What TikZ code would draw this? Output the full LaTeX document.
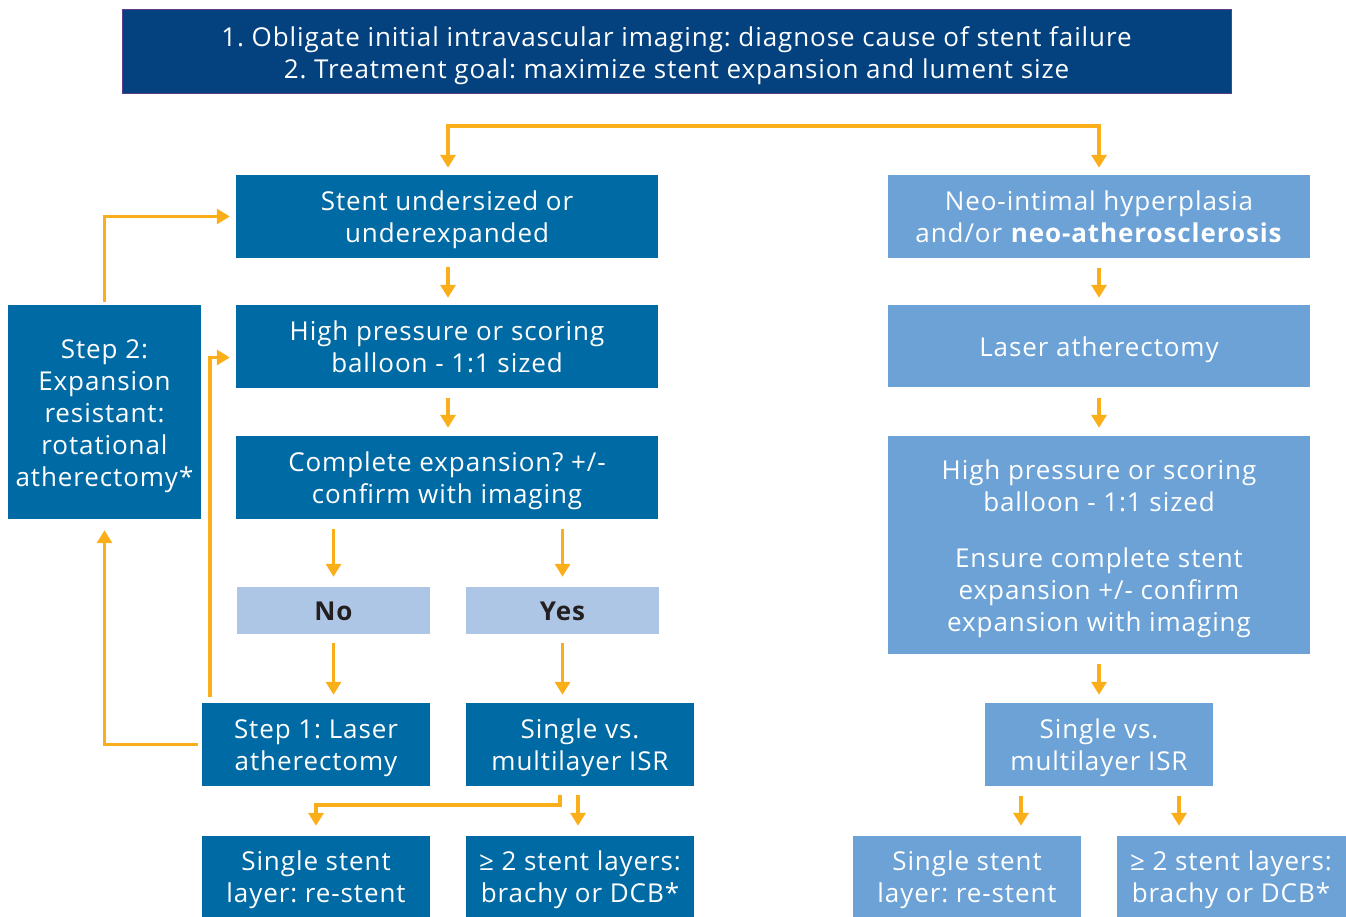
\documentclass[tikz,border=0pt]{standalone}
\usepackage{fontspec}
\setmainfont{Open Sans}[LetterSpace=3.5]
\usetikzlibrary{arrows.meta,calc}
\definecolor{banner}{RGB}{3,66,127}
\definecolor{bannerline}{RGB}{92,60,140}
\definecolor{midblue}{RGB}{0,106,164}
\definecolor{rblue}{RGB}{108,162,214}
\definecolor{lblue}{RGB}{174,198,230}
\definecolor{arrorange}{RGB}{250,174,26}
\definecolor{nearblack}{RGB}{35,31,32}
\newcommand{\tb}[1]{\raisebox{-4pt}[\height][\depth]{\begin{tabular}{@{}c@{}}#1\end{tabular}}}
\begin{document}
\frenchspacing
\begin{tikzpicture}[x=1pt,y=-1pt,
  base/.style={inner sep=0pt,font=\fontsize{26}{32}\selectfont},
  box/.style={base,fill=midblue,text=white},
  rbox/.style={base,fill=rblue,text=white},
  ansbox/.style={base,fill=lblue,text=nearblack,font=\fontsize{26}{32}\selectfont\bfseries},
  arr/.style={draw=arrorange,line width=3.5pt,-{Triangle[width=15pt,length=13pt]}},
  wide/.style={minimum width=422pt,minimum height=83pt},
  narrow/.style={minimum width=228pt,minimum height=83pt}]
\useasboundingbox (0,0) rectangle (1346,917);

% banner
\node[base,fill=banner,draw=bannerline,line width=1pt,text=white,minimum width=1109pt,minimum height=84pt] (T) at (676.5,52)
  {\tb{1. Obligate initial intravascular imaging: diagnose cause of stent failure\\2. Treatment goal: maximize stent expansion and lument size}};

% left column
\node[box,wide] (A) at (447,216.5) {\tb{Stent undersized or\\underexpanded}};
\node[box,wide] (B) at (447,346.5) {\tb{High pressure or scoring\\balloon - 1:1 sized}};
\node[box,wide] (C) at (447,477.5) {\tb{Complete expansion? +/-\\confirm with imaging}};
\node[ansbox,minimum width=193pt,minimum height=47pt] (No) at (333.5,610.5) {\tb{No}};
\node[ansbox,minimum width=193pt,minimum height=47pt] (Yes) at (562.5,610.5) {\tb{Yes}};
\node[box,narrow] (S1) at (316,744.5) {\tb{Step 1: Laser\\atherectomy}};
\node[box,narrow] (ISR) at (580,744.5) {\tb{Single vs.\\multilayer ISR}};
\node[box,minimum width=228pt,minimum height=81pt] (SS) at (316,876.5) {\tb{Single stent\\layer: re-stent}};
\node[box,minimum width=228pt,minimum height=81pt] (ML) at (580,876.5) {\tb{≥ 2 stent layers:\\brachy or DCB*}};
\node[box,minimum width=193pt,minimum height=214pt] (S2) at (104.5,412) {\tb{Step 2:\\Expansion\\resistant:\\rotational\\atherectomy*}};

% right column
\node[rbox,wide] (N) at (1099,216.5) {\tb{Neo-intimal hyperplasia\\and/or \textbf{neo-atherosclerosis}}};
\node[rbox,minimum width=422pt,minimum height=82pt] (L) at (1099,346) {\tb{Laser atherectomy}};
\node[rbox,minimum width=422pt,minimum height=218pt] (H) at (1099,545)
  {\tb{High pressure or scoring\\balloon - 1:1 sized\\[24pt]Ensure complete stent\\expansion +/- confirm\\expansion with imaging}};
\node[rbox,narrow] (NISR) at (1099,744.5) {\tb{Single vs.\\multilayer ISR}};
\node[rbox,minimum width=228pt,minimum height=81pt] (NSS) at (967,876.5) {\tb{Single stent\\layer: re-stent}};
\node[rbox,minimum width=229pt,minimum height=81pt] (NML) at (1231,876.5) {\tb{≥ 2 stent layers:\\brachy or DCB*}};

% top split
\coordinate (split) at (774,126);
\draw[arr,shorten >=7pt] (split) -| ([xshift=1pt]A.north);
\draw[arr,shorten >=7pt] (split) -| (N.north);

% left column arrows
\draw[arr,shorten <=9pt,shorten >=7pt] ([xshift=1pt]A.south) -- ([xshift=1pt]B.north);
\draw[arr,shorten <=10pt,shorten >=8pt] ([xshift=1pt]B.south) -- ([xshift=1pt]C.north);
\draw[arr,shorten <=10pt,shorten >=10pt] (C.south -| No.north) -- (No.north);
\draw[arr,shorten <=10pt,shorten >=10pt] (C.south -| Yes.north) -- (Yes.north);
\draw[arr,shorten <=9pt,shorten >=8pt] (No.south) -- (No.south |- S1.north);
\draw[arr,shorten <=9pt,shorten >=8pt] (Yes.south) -- (Yes.south |- ISR.north);
\coordinate (isrmid) at (560,805);
\draw[arr,shorten >=10pt] ([xshift=-20pt,yshift=-9pt]ISR.south) -- (isrmid) -| (SS.north);
\draw[arr,shorten <=9pt,shorten >=10pt] ([xshift=-2pt]ISR.south) -- ([xshift=-2pt]ISR.south |- ML.north);

% loop-back arrows
\draw[arr,shorten <=4pt,shorten >=11pt] (S1.west) -| (S2.south);
\draw[arr,shorten <=3pt,shorten >=6pt] (S2.north) |- (A.west);
\draw[arr,shorten <=6pt,shorten >=6pt] ([xshift=8pt]S1.north west) |- ([yshift=-11pt]B.west);

% right column arrows
\draw[arr,shorten <=10pt,shorten >=7pt] (N.south) -- (L.north);
\draw[arr,shorten <=11pt,shorten >=8pt] (L.south) -- (H.north);
\draw[arr,shorten <=10pt,shorten >=8pt] (H.south) -- (NISR.north);
\draw[arr,shorten <=10pt,shorten >=10pt] ([xshift=-78pt]NISR.south) -- ([xshift=-78pt]NISR.south |- NSS.north);
\draw[arr,shorten <=10pt,shorten >=10pt] ([xshift=80pt]NISR.south) -- ([xshift=80pt]NISR.south |- NML.north);
\end{tikzpicture}
\end{document}
